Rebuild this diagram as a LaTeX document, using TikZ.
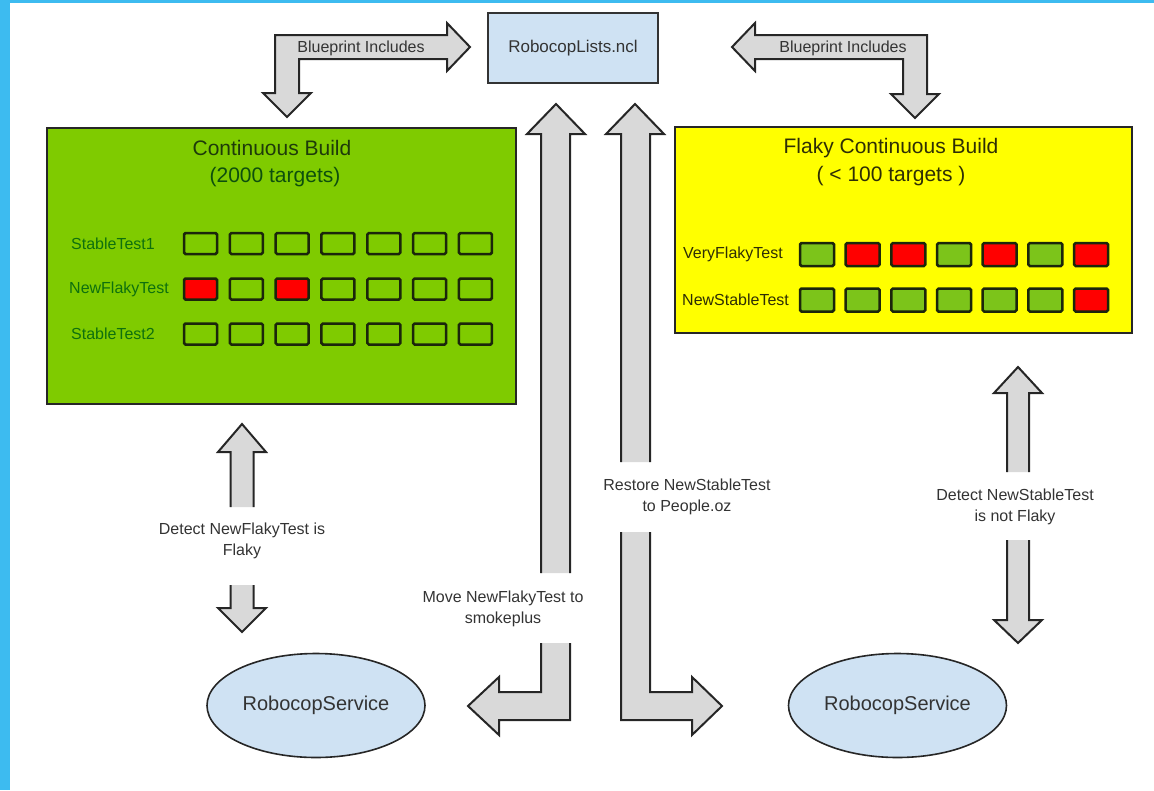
\documentclass[tikz,border=0pt]{standalone}
\usepackage{fontspec}
\setmainfont{Liberation Sans}
\usetikzlibrary{shapes.geometric}

\definecolor{frameblue}{HTML}{3DBBF0}
\definecolor{listblue}{HTML}{CFE2F3}
\definecolor{cbgreen}{HTML}{7FCB00}
\definecolor{flakyyellow}{HTML}{FFFF00}
\definecolor{cellred}{HTML}{FF0000}
\definecolor{cellgreen}{HTML}{7CC41A}
\definecolor{arrowgray}{HTML}{D9D9D9}
\definecolor{inkgray}{HTML}{333333}
\definecolor{cbtitle}{HTML}{1E3B0A}
\definecolor{cbsub}{HTML}{0D4F0D}
\definecolor{cblabel}{HTML}{0E700E}
\definecolor{fltitle}{HTML}{2E2E05}
\definecolor{cellline}{HTML}{1B260B}

\begin{document}
\begin{tikzpicture}[x=1pt,y=-1pt,
  blockarrow/.style={fill=arrowgray,draw=black!85,line width=2pt,line join=miter},
  listbox/.style={draw=black!80,line width=1.6pt,fill=listblue,minimum width=170pt,minimum height=70pt,inner sep=0pt,font=\fontsize{17}{20}\selectfont,text=inkgray},
  service/.style={ellipse,draw=black!85,line width=1.6pt,fill=listblue,minimum width=218pt,minimum height=104pt,inner sep=0pt,font=\fontsize{20}{24}\selectfont,text=inkgray},
  buildbox/.style={draw=black!85,line width=2pt,inner sep=0pt},
  cell/.style={draw=cellline,line width=2.5pt,rounded corners=1.5pt,inner sep=0pt},
  note/.style={align=center,text=inkgray,inner sep=1pt,font=\fontsize{16}{20.5}\selectfont},
  rowlabel/.style={anchor=west,inner sep=0pt,font=\fontsize{16}{19}\selectfont},
  title/.style={inner sep=0pt,font=\fontsize{21}{25}\selectfont}]

\useasboundingbox (0,0) rectangle (1154,790);

% page frame strips
\fill[frameblue] (0,0) rectangle (10,790);
\fill[frameblue] (0,0) rectangle (1154,3);

% central list file
\node[listbox] (lists) at (573,48) {RobocopLists.ncl};

% continuous build panel
\node[buildbox,fill=cbgreen,minimum width=469pt,minimum height=276pt] (cb) at (281.5,266) {};
\node[title,text=cbtitle] (cbT) at (272,148) {Continuous Build};
\node[title,text=cbsub] (cbS) at (275,177) {(2000 targets)};
\node[rowlabel,text=cblabel] (st1) at (71,243.5) {StableTest1};
\node[rowlabel,text=cblabel] (nft) at (69,289) {NewFlakyTest};
\node[rowlabel,text=cblabel] (st2) at (71,334) {StableTest2};
\foreach \f [count=\k from 0] in {cbgreen,cbgreen,cbgreen,cbgreen,cbgreen,cbgreen,cbgreen}
  \node[cell,fill=\f,minimum width=33pt,minimum height=21pt] (a-\k) at ({200.5+45.83*\k},243.5) {};
\foreach \f [count=\k from 0] in {cellred,cbgreen,cellred,cbgreen,cbgreen,cbgreen,cbgreen}
  \node[cell,fill=\f,minimum width=33pt,minimum height=21pt] (b-\k) at ({200.5+45.83*\k},289) {};
\foreach \f [count=\k from 0] in {cbgreen,cbgreen,cbgreen,cbgreen,cbgreen,cbgreen,cbgreen}
  \node[cell,fill=\f,minimum width=33pt,minimum height=21pt] (c-\k) at ({200.5+45.83*\k},334) {};

% flaky continuous build panel
\node[buildbox,fill=flakyyellow,minimum width=457pt,minimum height=206pt] (fcb) at (903.5,230) {};
\node[title,text=fltitle] (fcbT) at (891,148) {Flaky Continuous Build};
\node[title,text=fltitle] (fcbS) at (891,176) {( < 100 targets )};
\node[rowlabel,text=fltitle] (vft) at (683,254.5) {VeryFlakyTest};
\node[rowlabel,text=fltitle] (nst) at (682,300) {NewStableTest};
\foreach \f [count=\k from 0] in {cellgreen,cellred,cellred,cellgreen,cellred,cellgreen,cellred}
  \node[cell,fill=\f,minimum width=34pt,minimum height=23pt] (d-\k) at ({817+45.67*\k},254.5) {};
\foreach \f [count=\k from 0] in {cellgreen,cellgreen,cellgreen,cellgreen,cellgreen,cellgreen,cellred}
  \node[cell,fill=\f,minimum width=34pt,minimum height=23pt] (e-\k) at ({817+45.67*\k},300) {};

% robocop services
\node[service] (svcL) at (316,705.5) {RobocopService};
\node[service] (svcR) at (897.5,705.5) {RobocopService};

% blueprint include arrows
\draw[blockarrow] (275,35) -- (447,35) -- (447,23) -- (470,47) -- (447,71) -- (447,59)
  -- (299,59) -- (299,93) -- (311,93) -- (287,117) -- (263,93) -- (275,93) -- cycle;
\draw[blockarrow] (732,47) -- (755,23) -- (755,35) -- (927,35) -- (927,94) -- (939,94)
  -- (915,118) -- (891,94) -- (903,94) -- (903,59) -- (755,59) -- (755,71) -- cycle;
\node[note] (bpL) at (361,48) {Blueprint Includes};
\node[note] (bpR) at (843,48) {Blueprint Includes};

% detect flaky: double arrow split by its label
\draw[blockarrow] (230.5,507) -- (230.5,452) -- (218,452) -- (242,424) -- (266,452) -- (253.5,452) -- (253.5,507);
\draw[blockarrow] (230.5,585) -- (230.5,608) -- (218,608) -- (242,632) -- (266,608) -- (253.5,608) -- (253.5,585);
\node[note] (lblA) at (242,541) {Detect NewFlakyTest is\\Flaky};

% move to smokeplus
\draw[blockarrow] (541,573) -- (541,134) -- (527,134) -- (556,104) -- (585,134) -- (570,134) -- (570,573);
\draw[blockarrow] (541,643) -- (541,692) -- (499,692) -- (499,677) -- (468,706) -- (499,735)
  -- (499,720) -- (570,720) -- (570,643);
\node[note] (lblB) at (503,609) {Move NewFlakyTest to\\smokeplus};

% restore to people
\draw[blockarrow] (621,462) -- (621,134) -- (606,134) -- (635,104) -- (664,134) -- (650,134) -- (650,462);
\draw[blockarrow] (621,532) -- (621,720) -- (692,720) -- (692,735) -- (722,706) -- (692,677)
  -- (692,692) -- (650,692) -- (650,532);
\node[note] (lblC) at (687,497) {Restore NewStableTest\\to People.oz};

% detect not flaky
\draw[blockarrow] (1007,472) -- (1007,393) -- (994,393) -- (1018,367) -- (1042,393) -- (1029,393) -- (1029,472);
\draw[blockarrow] (1007,540) -- (1007,620) -- (994,620) -- (1018,643) -- (1042,620) -- (1029,620) -- (1029,540);
\node[note] (lblD) at (1015,507) {Detect NewStableTest\\is not Flaky};

\end{tikzpicture}
\end{document}
